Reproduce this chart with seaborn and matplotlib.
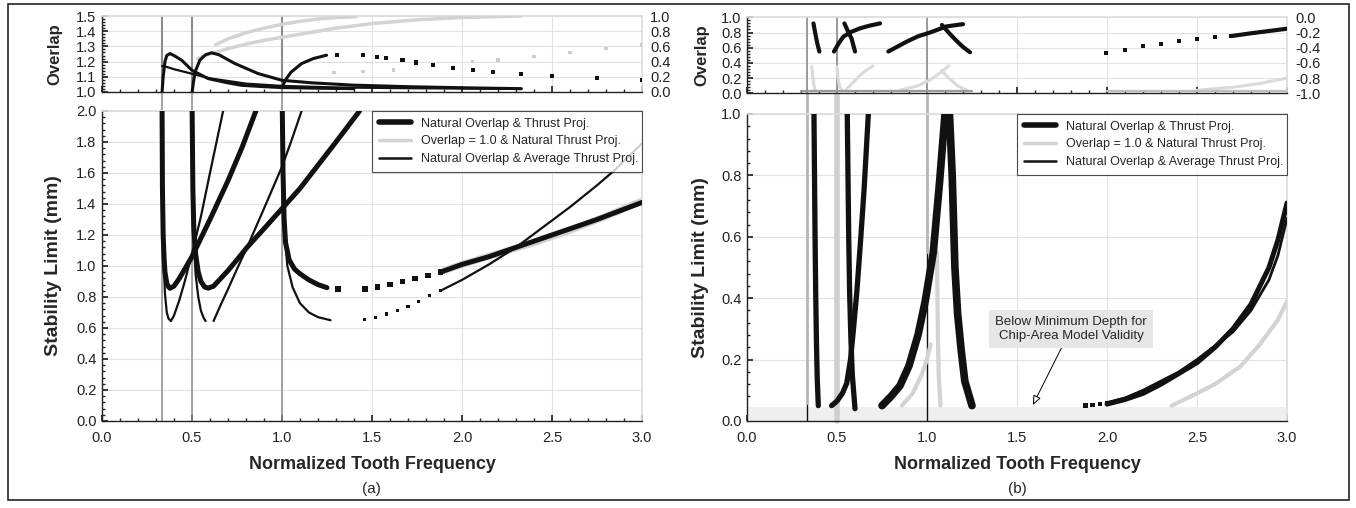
import matplotlib
matplotlib.use("Agg")
import matplotlib.pyplot as plt
import seaborn as sns
from matplotlib.lines import Line2D
from matplotlib.patches import Rectangle
from matplotlib.ticker import MultipleLocator, AutoMinorLocator, FormatStrFormatter

# ---------------- data ----------------
res_x = [1 / 3, 0.5, 1.0]

# (a) stability lobes, natural overlap & thrust proj (thick)
a_thick_x1 = [0.334, 0.336, 0.34, 0.345, 0.35, 0.36, 0.37, 0.378, 0.40, 0.43, 0.46, 0.50, 0.55, 0.60, 0.70, 0.78, 0.855]
a_thick_y1 = [2.0, 1.5, 1.2, 1.05, 0.96, 0.89, 0.865, 0.856, 0.87, 0.92, 0.98, 1.06, 1.18, 1.3, 1.55, 1.77, 2.0]
a_thick_x2 = [0.501, 0.505, 0.51, 0.52, 0.535, 0.55, 0.57, 0.59, 0.62, 0.66, 0.70, 0.75, 0.806, 0.90, 1.0, 1.1, 1.2, 1.3, 1.431]
a_thick_y2 = [2.0, 1.5, 1.25, 1.08, 0.96, 0.9, 0.865, 0.857, 0.87, 0.92, 0.97, 1.04, 1.12, 1.24, 1.37, 1.5, 1.65, 1.8, 2.0]
a_thick_x3 = [1.002, 1.006, 1.012, 1.02, 1.04, 1.07, 1.1, 1.15, 1.2, 1.25]
a_thick_y3 = [2.0, 1.6, 1.3, 1.15, 1.04, 0.98, 0.95, 0.91, 0.88, 0.86]
a_thick_dot_x = [1.31, 1.46, 1.53, 1.6, 1.67, 1.74, 1.81, 1.88]
a_thick_dot_y = [0.85, 0.85, 0.865, 0.88, 0.9, 0.92, 0.94, 0.96]
a_thick_x4 = [1.88, 2.0, 2.15, 2.3, 2.5, 2.75, 3.0]
a_thick_y4 = [0.96, 1.01, 1.06, 1.12, 1.2, 1.3, 1.41]

# (a) natural overlap & average thrust proj (thin)
a_thin_x1 = [0.334, 0.337, 0.342, 0.35, 0.36, 0.37, 0.383, 0.40, 0.43, 0.46, 0.50, 0.55, 0.60, 0.673]
a_thin_y1 = [2.0, 1.4, 1.05, 0.82, 0.7, 0.66, 0.645, 0.68, 0.78, 0.9, 1.08, 1.32, 1.6, 2.0]
a_thin_x2 = [0.501, 0.505, 0.51, 0.52, 0.535, 0.55, 0.565, 0.576]
a_thin_y2 = [2.0, 1.45, 1.15, 0.95, 0.8, 0.71, 0.665, 0.645]
a_thin_x3 = [0.62, 0.66, 0.70, 0.75, 0.806, 0.90, 1.0, 1.05, 1.109]
a_thin_y3 = [0.645, 0.75, 0.85, 0.98, 1.12, 1.37, 1.64, 1.8, 2.0]
a_thin_x4 = [1.002, 1.008, 1.015, 1.03, 1.06, 1.1, 1.15, 1.2, 1.27]
a_thin_y4 = [2.0, 1.5, 1.2, 1.0, 0.86, 0.76, 0.7, 0.67, 0.65]
a_thin_dot_x = [1.46, 1.52, 1.58, 1.64, 1.7, 1.76, 1.82, 1.88]
a_thin_dot_y = [0.655, 0.67, 0.69, 0.71, 0.74, 0.77, 0.81, 0.84]
a_thin_x5 = [1.88, 2.0, 2.15, 2.3, 2.45, 2.6, 2.75, 2.85, 3.0]
a_thin_y5 = [0.84, 0.91, 1.01, 1.12, 1.25, 1.38, 1.52, 1.62, 1.79]

# (a) overlap = 1.0 (gray)
a_gray_x = [1.9, 2.0, 2.2, 2.4, 2.6, 2.8, 3.0]
a_gray_y = [0.97, 1.01, 1.08, 1.15, 1.23, 1.32, 1.42]

# (a) overlap panel, left axis
ov_a_x1 = [0.334, 0.34, 0.35, 0.36, 0.378, 0.40, 0.443, 0.5, 0.59, 0.7, 0.776, 0.9, 1.0, 1.2, 1.4]
ov_a_y1 = [1.0, 1.1, 1.2, 1.24, 1.253, 1.24, 1.209, 1.143, 1.088, 1.06, 1.044, 1.035, 1.029, 1.025, 1.022]
ov_a_x2 = [0.501, 0.51, 0.52, 0.544, 0.575, 0.609, 0.65, 0.739, 0.868, 1.0, 1.17, 1.4, 1.7, 2.0, 2.33]
ov_a_y2 = [1.0, 1.08, 1.14, 1.21, 1.245, 1.258, 1.245, 1.187, 1.121, 1.077, 1.06, 1.045, 1.035, 1.028, 1.022]
ov_a_x3 = [1.0, 1.02, 1.05, 1.109, 1.174, 1.248]
ov_a_y3 = [1.03, 1.08, 1.13, 1.187, 1.22, 1.242]
ov_a_dot_x = [1.307, 1.452, 1.53, 1.578, 1.67, 1.743, 1.84, 1.952, 2.063, 2.174, 2.33, 2.5, 2.75, 3.0]
ov_a_dot_y = [1.242, 1.242, 1.231, 1.225, 1.209, 1.194, 1.18, 1.16, 1.143, 1.132, 1.12, 1.105, 1.09, 1.08]
ov_a_thin_x = [0.334, 0.36, 0.4, 0.45, 0.5, 0.6, 0.8, 1.0, 1.3, 1.7, 2.33]
ov_a_thin_y = [1.17, 1.165, 1.15, 1.135, 1.12, 1.09, 1.055, 1.04, 1.03, 1.025, 1.02]

# (a) overlap panel, right axis (gray)
thr_a_x1 = [0.53, 0.6, 0.7, 0.8, 0.9, 1.0, 1.1, 1.2, 1.3, 1.5, 1.75, 2.0, 2.33]
thr_a_y1 = [0.44, 0.5, 0.57, 0.63, 0.68, 0.72, 0.76, 0.8, 0.84, 0.9, 0.95, 0.98, 1.0]
thr_a_x2 = [0.63, 0.7, 0.8, 0.9, 1.0, 1.1, 1.2, 1.3, 1.41]
thr_a_y2 = [0.62, 0.7, 0.78, 0.84, 0.89, 0.93, 0.96, 0.98, 0.99]
thr_a_dot_x = [1.29, 1.45, 1.62, 1.84, 2.06, 2.2, 2.4, 2.6, 2.8, 3.0]
thr_a_dot_y = [0.26, 0.27, 0.29, 0.35, 0.4, 0.42, 0.47, 0.52, 0.57, 0.62]

# (b) stability lobes
b_thick_x1 = [0.372, 0.375, 0.378, 0.382, 0.386, 0.39, 0.396]
b_thick_y1 = [1.0, 0.8, 0.6, 0.4, 0.25, 0.14, 0.05]
b_thick_x2 = [0.557, 0.561, 0.565, 0.57, 0.577, 0.585, 0.6]
b_thick_y2 = [1.0, 0.8, 0.6, 0.42, 0.27, 0.15, 0.04]
b_thick_x3 = [0.47, 0.5, 0.53, 0.554, 0.575, 0.59, 0.61, 0.63, 0.65, 0.674]
b_thick_y3 = [0.05, 0.065, 0.09, 0.123, 0.2, 0.29, 0.42, 0.58, 0.75, 1.0]
b_thick_x4 = [0.75, 0.8, 0.85, 0.9, 0.95, 0.99, 1.035, 1.07, 1.1]
b_thick_y4 = [0.05, 0.08, 0.115, 0.18, 0.28, 0.39, 0.55, 0.78, 1.0]
b_thick_x5 = [1.125, 1.14, 1.155, 1.17, 1.19, 1.21, 1.25]
b_thick_y5 = [1.0, 0.8, 0.5, 0.35, 0.23, 0.13, 0.05]
b_dot_x = [1.88, 1.92, 1.96, 2.0, 2.04]
b_dot_y = [0.05, 0.052, 0.055, 0.058, 0.062]
b_thick_x6 = [2.0, 2.1, 2.2, 2.3, 2.4, 2.5, 2.6, 2.7, 2.8, 2.9, 2.95, 3.0]
b_thick_y6 = [0.055, 0.07, 0.09, 0.12, 0.155, 0.19, 0.24, 0.3, 0.38, 0.5, 0.59, 0.71]
b_thin_x6 = [2.0, 2.1, 2.2, 2.3, 2.4, 2.5, 2.6, 2.7, 2.8, 2.9, 2.95, 3.0]
b_thin_y6 = [0.06, 0.075, 0.1, 0.13, 0.16, 0.2, 0.245, 0.29, 0.36, 0.46, 0.54, 0.66]
b_gray_x1 = [0.86, 0.92, 0.97, 1.0, 1.02]
b_gray_y1 = [0.05, 0.09, 0.15, 0.2, 0.25]
b_gray_x2 = [1.055, 1.06, 1.065, 1.075]
b_gray_y2 = [0.55, 0.3, 0.15, 0.05]
b_gray_x3 = [2.36, 2.5, 2.6, 2.74, 2.85, 2.95, 3.0]
b_gray_y3 = [0.05, 0.09, 0.12, 0.177, 0.25, 0.33, 0.39]

# (b) overlap panel
ov_b_x1 = [0.369, 0.38, 0.39, 0.402]
ov_b_y1 = [0.92, 0.78, 0.66, 0.55]
ov_b_x2 = [0.483, 0.51, 0.535, 0.58, 0.628, 0.68, 0.739]
ov_b_y2 = [0.55, 0.66, 0.745, 0.81, 0.855, 0.89, 0.92]
ov_b_x3 = [0.541, 0.56, 0.581, 0.6]
ov_b_y3 = [0.92, 0.82, 0.72, 0.55]
ov_b_x4 = [0.785, 0.84, 0.887, 0.95, 1.017, 1.107, 1.2]
ov_b_y4 = [0.55, 0.62, 0.68, 0.75, 0.8, 0.88, 0.91]
ov_b_x5 = [1.083, 1.12, 1.16, 1.2, 1.239]
ov_b_y5 = [0.9, 0.8, 0.7, 0.61, 0.54]
ov_b_dot_x = [1.997, 2.1, 2.2, 2.3, 2.4, 2.5, 2.6, 2.69]
ov_b_dot_y = [0.53, 0.57, 0.62, 0.655, 0.685, 0.71, 0.735, 0.753]
ov_b_x6 = [2.69, 2.8, 2.9, 3.0]
ov_b_y6 = [0.753, 0.79, 0.82, 0.85]
thr_b_x1 = [0.36, 0.365, 0.372, 0.38]
thr_b_y1 = [0.35, 0.22, 0.1, 0.04]
thr_b_x2 = [0.5, 0.505, 0.515, 0.53]
thr_b_y2 = [0.35, 0.2, 0.08, 0.04]
thr_b_x3 = [0.55, 0.58, 0.62, 0.66, 0.7]
thr_b_y3 = [0.05, 0.12, 0.22, 0.3, 0.36]
thr_b_x4 = [0.85, 0.95, 1.02, 1.08, 1.12]
thr_b_y4 = [0.04, 0.1, 0.18, 0.28, 0.36]
thr_b_x5 = [1.08, 1.12, 1.17, 1.22]
thr_b_y5 = [0.3, 0.2, 0.1, 0.04]
thr_b_x6 = [2.5, 2.7, 2.85, 3.0]
thr_b_y6 = [0.04, 0.08, 0.13, 0.2]
base_b_x1 = [0.3, 1.25]
base_b_x2 = [2.0, 3.0]
base_b_y = [0.03, 0.03]

legend_labels = ["Natural Overlap & Thrust Proj.",
                 "Overlap = 1.0 & Natural Thrust Proj.",
                 "Natural Overlap & Average Thrust Proj."]

BLACK = "#111111"
GRAY = "#d3d3d3"
RES = "#8c8c8c"
FONT = ["Liberation Sans", "DejaVu Sans"]

sns.set_theme(style="whitegrid")
plt.rcParams["font.family"] = FONT


def line(ax, xs, ys, color=BLACK, lw=1.5, z=3, ls="-"):
    sns.lineplot(x=xs, y=ys, ax=ax, color=color, lw=lw, linestyle=ls, sort=False,
                 estimator=None, legend=False, zorder=z)


def dots(ax, xs, ys, s=10, color=BLACK):
    sns.scatterplot(x=xs, y=ys, ax=ax, marker="s", s=s, color=color, edgecolor="none",
                    legend=False, zorder=4)


def style(ax, ylim, ystep, xlabels=True):
    ax.set_xlim(0, 3)
    ax.set_ylim(*ylim)
    ax.set_facecolor("white")
    ax.xaxis.set_major_locator(MultipleLocator(0.5))
    ax.xaxis.set_minor_locator(MultipleLocator(0.1))
    ax.yaxis.set_major_locator(MultipleLocator(ystep))
    ax.yaxis.set_minor_locator(AutoMinorLocator(5))
    ax.xaxis.set_major_formatter(FormatStrFormatter("%.1f"))
    ax.yaxis.set_major_formatter(FormatStrFormatter("%.1f"))
    ax.grid(True, which="major", color="#e2e2e2", lw=0.8)
    ax.grid(False, which="minor")
    for s in ["left", "bottom"]:
        ax.spines[s].set_color("#222222")
        ax.spines[s].set_linewidth(1.0)
    for s in ["top", "right"]:
        ax.spines[s].set_color("#dddddd")
    ax.tick_params(which="both", direction="in", left=True, bottom=True, colors="#222222",
                   labelsize=10.5, pad=4)
    ax.tick_params(axis="x", pad=7)
    ax.tick_params(which="major", length=4)
    ax.tick_params(which="minor", length=2.5)
    if not xlabels:
        ax.tick_params(axis="x", labelbottom=False)


fig = plt.figure(figsize=(13.56, 5.08), dpi=100)
axa = fig.add_axes([0.0752, 0.1713, 0.3982, 0.6102])
axa_t = fig.add_axes([0.0752, 0.8189, 0.3982, 0.1496])
axb = fig.add_axes([0.5509, 0.1713, 0.3982, 0.6043])
axb_t = fig.add_axes([0.5509, 0.8163, 0.3982, 0.1496])

# ---------------- panel (a) ----------------
style(axa, (0, 2.0), 0.2)
style(axa_t, (1.0, 1.5), 0.1, xlabels=False)
for x in res_x:
    axa.axvline(x, ymin=0, ymax=1.065, color=RES, lw=1.1, zorder=2, clip_on=False)
    axa_t.axvline(x, color=RES, lw=1.5, zorder=2)

line(axa, a_gray_x, a_gray_y, GRAY, 5, z=2)
for xs, ys in [(a_thin_x1, a_thin_y1), (a_thin_x2, a_thin_y2), (a_thin_x3, a_thin_y3),
               (a_thin_x4, a_thin_y4), (a_thin_x5, a_thin_y5)]:
    line(axa, xs, ys, BLACK, 1.6)
for xs, ys in [(a_thick_x1, a_thick_y1), (a_thick_x2, a_thick_y2), (a_thick_x3, a_thick_y3),
               (a_thick_x4, a_thick_y4)]:
    line(axa, xs, ys, BLACK, 3.6)
dots(axa, a_thick_dot_x, a_thick_dot_y, s=16)
dots(axa, a_thin_dot_x, a_thin_dot_y, s=5)

axa_r = axa_t.twinx()
axa_r.set_ylim(0, 1.0)
axa_r.yaxis.set_major_locator(MultipleLocator(0.2))
axa_r.yaxis.set_major_formatter(FormatStrFormatter("%.1f"))
axa_r.grid(False)
axa_r.tick_params(axis="y", length=0, labelsize=10.5, colors="#222222", pad=6)
for s in axa_r.spines.values():
    s.set_visible(False)
line(axa_r, thr_a_x1, thr_a_y1, GRAY, 2.5, z=2)
line(axa_r, thr_a_x2, thr_a_y2, GRAY, 2.5, z=2)
dots(axa_r, thr_a_dot_x, thr_a_dot_y, s=6, color="#cccccc")
line(axa_r, ov_a_thin_x, [(v - 1.0) * 2 for v in ov_a_thin_y], BLACK, 1.6)
line(axa_r, ov_a_x1, [(v - 1.0) * 2 for v in ov_a_y1], BLACK, 2.2)
line(axa_r, ov_a_x2, [(v - 1.0) * 2 for v in ov_a_y2], BLACK, 2.2)
line(axa_r, ov_a_x3, [(v - 1.0) * 2 for v in ov_a_y3], BLACK, 2.2)
dots(axa_r, ov_a_dot_x, [(v - 1.0) * 2 for v in ov_a_dot_y], s=9)

# ---------------- panel (b) ----------------
style(axb, (0, 1.0), 0.2)
style(axb_t, (0, 1.0), 0.2, xlabels=False)
axb.axhspan(0, 0.045, color="#efefef", zorder=1, lw=0)
axb.axvline(res_x[0], ymin=0, ymax=0.06, color=BLACK, lw=1.0, zorder=2)
axb.axvline(res_x[0], ymin=0.06, ymax=1.065, color="#b5b5b5", lw=2.0, zorder=2, clip_on=False)
axb.axvline(res_x[1], ymin=0, ymax=1.065, color="#cfcfcf", lw=4.0, zorder=2, clip_on=False)
axb.axvline(res_x[2], ymin=0, ymax=0.55, color=BLACK, lw=1.0, zorder=2)
axb.axvline(res_x[2], ymin=0.55, ymax=1.065, color="#b5b5b5", lw=2.0, zorder=2, clip_on=False)
axb_t.axvline(res_x[0], color="#9a9a9a", lw=1.4, zorder=2)
axb_t.axvline(res_x[1], color="#9a9a9a", lw=1.4, zorder=2)
axb_t.axvline(res_x[2], color="#9a9a9a", lw=1.4, zorder=2)

for xs, ys in [(b_gray_x1, b_gray_y1), (b_gray_x2, b_gray_y2), (b_gray_x3, b_gray_y3)]:
    line(axb, xs, ys, GRAY, 3.0, z=2)
for xs, ys in [(b_thick_x1, b_thick_y1), (b_thick_x2, b_thick_y2), (b_thick_x3, b_thick_y3)]:
    line(axb, xs, ys, BLACK, 3.8)
for xs, ys in [(b_thick_x4, b_thick_y4), (b_thick_x5, b_thick_y5)]:
    line(axb, xs, ys, BLACK, 5.5)
line(axb, b_thick_x6, b_thick_y6, BLACK, 3.6)
line(axb, b_thin_x6, b_thin_y6, BLACK, 2.0)
dots(axb, b_dot_x, b_dot_y, s=10)

axb.annotate("Below Minimum Depth for\nChip-Area Model Validity", xy=(1.588, 0.052),
             xytext=(1.8, 0.30), ha="center", va="center", fontsize=9.5, zorder=6,
             bbox=dict(boxstyle="square,pad=0.45", fc="#e6e6e6", ec="none"),
             arrowprops=dict(arrowstyle="-|>,head_length=0.6,head_width=0.25", fc="white",
                             ec="black", lw=0.7, shrinkA=0, shrinkB=0))

for xs, ys in [(thr_b_x1, thr_b_y1), (thr_b_x2, thr_b_y2), (thr_b_x3, thr_b_y3),
               (thr_b_x4, thr_b_y4), (thr_b_x5, thr_b_y5), (thr_b_x6, thr_b_y6)]:
    line(axb_t, xs, ys, "#dadada", 2.2, z=2)
line(axb_t, base_b_x1, base_b_y, "#9a9a9a", 1.6, z=2)
line(axb_t, base_b_x2, base_b_y, "#bdbdbd", 1.6, z=2)
for xs, ys in [(ov_b_x1, ov_b_y1), (ov_b_x2, ov_b_y2), (ov_b_x3, ov_b_y3),
               (ov_b_x4, ov_b_y4), (ov_b_x5, ov_b_y5), (ov_b_x6, ov_b_y6)]:
    line(axb_t, xs, ys, BLACK, 3.0)
dots(axb_t, ov_b_dot_x, ov_b_dot_y, s=8)

axb_r = axb_t.twinx()
axb_r.set_ylim(-1.0, 0.0)
axb_r.yaxis.set_major_locator(MultipleLocator(0.2))
axb_r.yaxis.set_major_formatter(FormatStrFormatter("%.1f"))
axb_r.grid(False)
axb_r.tick_params(axis="y", length=0, labelsize=10.5, colors="#222222", pad=6)
for s in axb_r.spines.values():
    s.set_visible(False)

# ---------------- labels, legends, frame ----------------
handles = [Line2D([], [], color=BLACK, lw=4.0),
           Line2D([], [], color=GRAY, lw=2.5),
           Line2D([], [], color=BLACK, lw=1.8)]
for ax in (axa, axb):
    leg = ax.legend(handles, legend_labels, loc="upper left", bbox_to_anchor=(0.5, 0, 0.5, 1),
                    mode="expand", borderaxespad=0, fontsize=9, frameon=True, fancybox=False,
                    handlelength=2.6, labelspacing=0.45, borderpad=0.55)
    leg.get_frame().set_edgecolor("#222222")
    leg.get_frame().set_linewidth(0.8)
    leg.set_zorder(7)
    ax.set_xlabel("Normalized Tooth Frequency", fontsize=13, fontweight="bold", labelpad=8)
    ax.set_ylabel("Stability Limit (mm)", fontsize=14, fontweight="bold")

for ax in (axa_t, axb_t):
    ax.set_ylabel("Overlap", fontsize=12, fontweight="bold")

axa.yaxis.set_label_coords(-0.074, 0.5)
axa_t.yaxis.set_label_coords(-0.074, 0.5)
axb.yaxis.set_label_coords(-0.07, 0.5)
axb_t.yaxis.set_label_coords(-0.07, 0.5)

fig.text(0.274, 0.038, "(a)", ha="center", va="center", fontsize=11)
fig.text(0.75, 0.038, "(b)", ha="center", va="center", fontsize=11)
fig.patches.append(Rectangle((0.006, 0.015), 0.989, 0.978, transform=fig.transFigure,
                             fill=False, ec="#222222", lw=1.2))

fig.savefig("out.png", dpi=100)
